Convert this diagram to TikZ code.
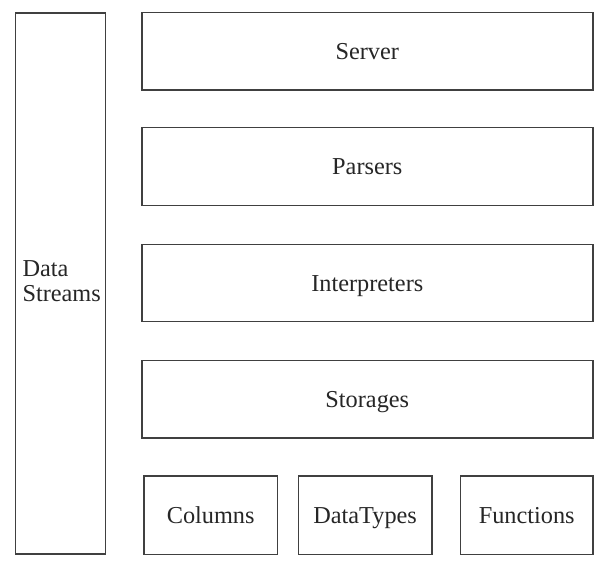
\documentclass[tikz,border=0pt]{standalone}
\usepackage{fontspec}
\setmainfont{Liberation Serif}
\begin{document}
\begin{tikzpicture}[x=1pt,y=-1pt,
  box/.style={draw=black!75, line width=1.4pt, inner sep=0pt, font=\fontsize{24.3}{25.7}\selectfont, text=black!85},
  lbl/.style={box, text height=19pt, text depth=3pt},
  txt/.style={inner sep=0pt, font=\fontsize{24.3}{25.7}\selectfont, text=black!85}]
\useasboundingbox (0,0) rectangle (609,567);
\node[box, minimum width=90pt, minimum height=541pt] (ds) at (60.5,283.5) {};
\node[txt, anchor=base west] (dstext) at (22.3,276) {\begin{tabular}[t]{@{}l@{}}Data\\Streams\end{tabular}};
\node[lbl, minimum width=451pt, minimum height=77.5pt] (server) at (367.3,51.3) {Server};
\node[lbl, minimum width=451pt, minimum height=77.5pt] (parsers) at (367.3,166.5) {Parsers};
\node[lbl, minimum width=451pt, minimum height=77.5pt] (interp) at (367.3,283) {Interpreters};
\node[lbl, minimum width=451pt, minimum height=77.5pt] (stor) at (367.3,399.3) {Storages};
\node[lbl, minimum width=133.3pt, minimum height=78.3pt] (cols) at (210.7,515.2) {Columns};
\node[lbl, minimum width=133.5pt, minimum height=78.3pt] (dt) at (365.1,515.2) {DataTypes};
\node[lbl, minimum width=132.7pt, minimum height=78.3pt] (fn) at (526.7,515.2) {Functions};
\end{tikzpicture}
\end{document}
